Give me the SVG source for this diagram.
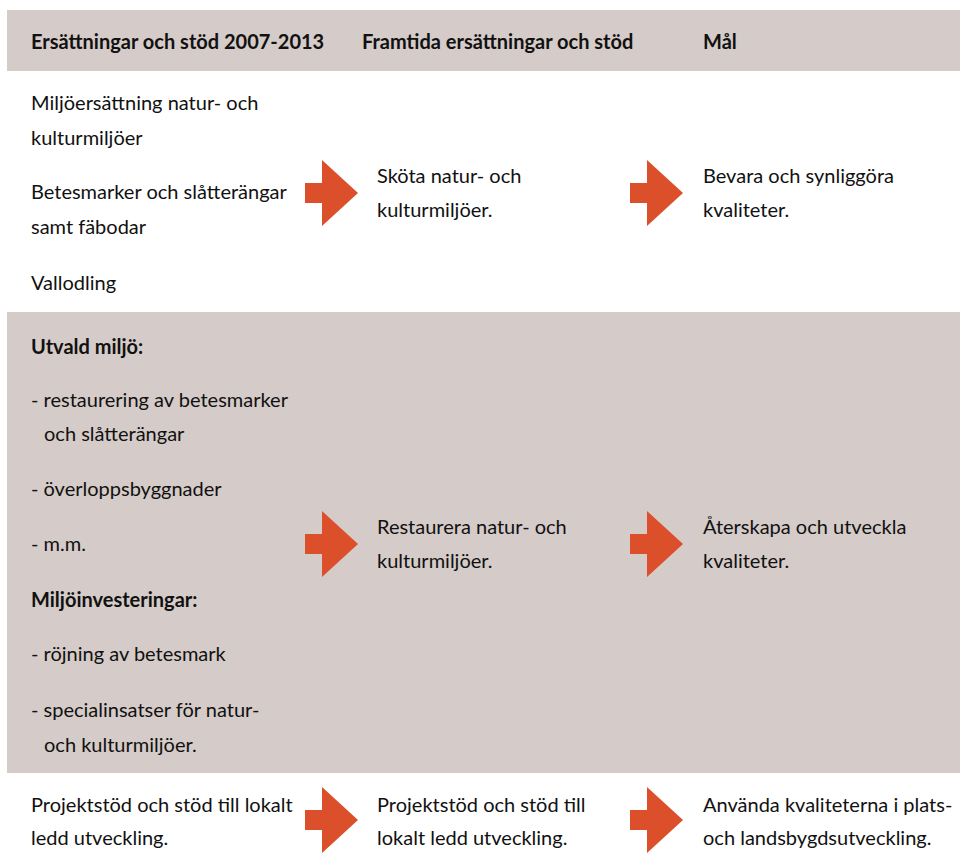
<svg xmlns="http://www.w3.org/2000/svg" width="960" height="853" viewBox="0 0 960 853">
<style>
.band{fill:#d5cbc8}
text{font-family:Lato,"Open Sans","Liberation Sans",sans-serif;font-size:20px;fill:#111}
.b{font-weight:bold}
.arrow{fill:#dc4f2b}
</style>
<defs>
<path id="arr" d="M0,-10 H17 V-33 L53,0 L17,33 V10 H0 Z"/>
</defs>
<rect width="960" height="853" fill="#fff"/>
<g id="header">
<rect class="band" x="7" y="10" width="953" height="61"/>
<text class="b" x="31" y="49">Ersättningar och stöd 2007-2013</text>
<text class="b" x="362" y="49">Framtida ersättningar och stöd</text>
<text class="b" x="703" y="49">Mål</text>
</g>
<g id="row1">
<text x="31" y="110">Miljöersättning natur- och</text>
<text x="31" y="145">kulturmiljöer</text>
<text x="31" y="199">Betesmarker och slåtterängar</text>
<text x="31" y="234">samt fäbodar</text>
<text x="31" y="290">Vallodling</text>
<text x="377" y="183">Sköta natur- och</text>
<text x="377" y="217">kulturmiljöer.</text>
<text x="703" y="183">Bevara och synliggöra</text>
<text x="703" y="217">kvaliteter.</text>
</g>
<g id="row2">
<rect class="band" x="7" y="312" width="953" height="461"/>
<text class="b" x="31" y="354">Utvald miljö:</text>
<text x="31" y="407">- restaurering av betesmarker</text>
<text x="44" y="441">och slåtterängar</text>
<text x="31" y="496">- överloppsbyggnader</text>
<text x="31" y="551">- m.m.</text>
<text class="b" x="31" y="607">Miljöinvesteringar:</text>
<text x="31" y="661">- röjning av betesmark</text>
<text x="31" y="717">- specialinsatser för natur-</text>
<text x="44" y="752">och kulturmiljöer.</text>
<text x="377" y="534">Restaurera natur- och</text>
<text x="377" y="568">kulturmiljöer.</text>
<text x="703" y="534">Återskapa och utveckla</text>
<text x="703" y="568">kvaliteter.</text>
</g>
<g id="row3">
<text x="31" y="812">Projektstöd och stöd till lokalt</text>
<text x="31" y="845">ledd utveckling.</text>
<text x="377" y="812">Projektstöd och stöd till</text>
<text x="377" y="845">lokalt ledd utveckling.</text>
<text x="703" y="812">Använda kvaliteterna i plats-</text>
<text x="703" y="845">och landsbygdsutveckling.</text>
</g>
<g id="connectors">
<use href="#arr" class="arrow" x="305" y="193"/>
<use href="#arr" class="arrow" x="630" y="193"/>
<use href="#arr" class="arrow" x="305" y="544"/>
<use href="#arr" class="arrow" x="630" y="544"/>
<use href="#arr" class="arrow" x="305" y="820"/>
<use href="#arr" class="arrow" x="630" y="820"/>
</g>
</svg>
